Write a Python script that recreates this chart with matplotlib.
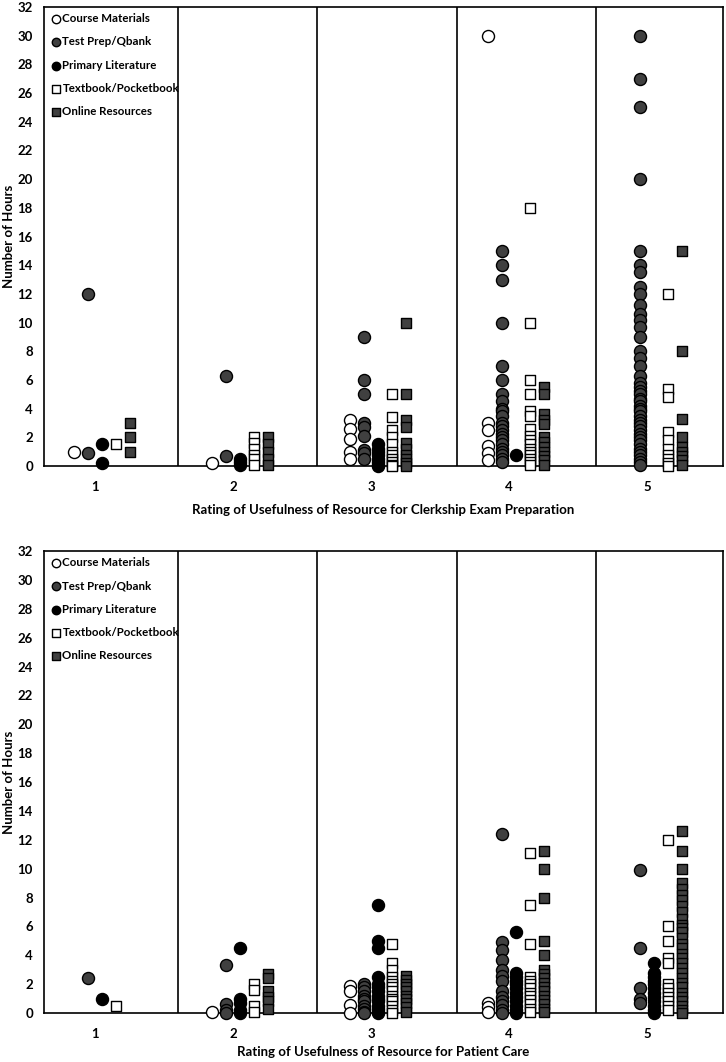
import matplotlib
matplotlib.use("Agg")
import matplotlib.pyplot as plt

plt.rcParams['font.family'] = ['Lato', 'DejaVu Sans']
plt.rcParams['font.weight'] = 'bold'

ratings = [1, 2, 3, 4, 5]
series_names = ['Course Materials', 'Test Prep/Qbank', 'Primary Literature',
                'Textbook/Pocketbook', 'Online Resources']

# hours per rating (1..5) for each resource, exam preparation panel
exam_course = [[1.0], [0.2], [3.2, 2.6, 1.9, 1.0, 0.5],
               [30, 3.0, 2.5, 1.4, 0.9, 0.4], []]
exam_qbank = [[12, 0.9], [6.3, 0.7],
              [9, 6, 5, 3, 2.7, 2.1, 1.1, 0.9, 0.5],
              [15, 14, 13, 10, 7, 6, 5, 4.5, 4, 3.8, 3.5, 3, 2.8, 2.5, 2.2, 2,
               1.8, 1.5, 1.2, 1, 0.8, 0.5, 0.3],
              [30, 27, 25, 20, 15, 14, 13.5, 12.5, 12, 11.2, 10.6, 10.2, 9.7, 9,
               8, 7.5, 7, 6.3, 5.8, 5.5, 5.2, 5, 4.7, 4.5, 4.2, 4, 3.8, 3.5,
               3.2, 3, 2.8, 2.5, 2.2, 2, 1.8, 1.5, 1.2, 1, 0.8, 0.5, 0.3, 0.1]]
exam_primary = [[1.5, 0.2], [0.5, 0.3, 0.1],
                [1.5, 1.2, 1.0, 0.8, 0.5, 0.3, 0.1, 0], [0.8], []]
exam_textbook = [[1.5], [2.0, 1.6, 1.2, 0.8, 0.5, 0.1],
                 [5, 3.4, 2.5, 2.0, 1.5, 1.0, 0.75, 0.5, 0.3, 0.1, 0],
                 [18, 10, 6, 5, 3.8, 3.5, 2.6, 2.1, 1.8, 1.5, 1.2, 1, 0.8,
                  0.5, 0.3, 0.1],
                 [12, 5.4, 4.8, 2.4, 1.8, 1.2, 0.8, 0.5, 0.2, 0]]
exam_online = [[3, 2, 1], [2.0, 1.5, 1.0, 0.5, 0.1],
               [10, 5, 3.2, 2.7, 1.6, 1.2, 0.8, 0.5, 0.2, 0],
               [5.5, 5.0, 3.6, 3.2, 2.9, 2.0, 1.7, 1.3, 1.0, 0.7, 0.4, 0.1],
               [15, 8, 3.3, 2.0, 1.3, 1.0, 0.7, 0.4, 0.1]]

# hours per rating (1..5) for each resource, patient care panel
care_course = [[], [0.1], [1.9, 1.5, 0.55, 0], [0.7, 0.4, 0.1], []]
care_qbank = [[2.4], [3.3, 0.6, 0.2, 0],
              [2.0, 1.8, 1.5, 1.2, 1.0, 0.8, 0.5, 0.3, 0.1, 0],
              [12.4, 4.9, 4.4, 3.7, 3.0, 2.6, 2.2, 1.5, 1.1, 0.8, 0.55, 0.2, 0],
              [9.9, 4.5, 1.7, 1.0, 0.7]]
care_primary = [[1.0], [4.5, 1.0, 0.7, 0.2, 0],
                [7.5, 5.0, 4.5, 2.5, 2, 1.8, 1.5, 1.2, 1.0, 0.8, 0.5, 0.3, 0.1, 0],
                [5.6, 2.8, 2.5, 2.2, 2.0, 1.7, 1.4, 1.1, 0.8, 0.5, 0.2, 0],
                [3.5, 2.8, 2.5, 2.2, 2.0, 1.7, 1.4, 1.1, 0.8, 0.5, 0.2, 0]]
care_textbook = [[0.5], [2.0, 1.6, 0.5, 0.05],
                 [4.8, 3.5, 3.0, 2.5, 2.2, 2.0, 1.8, 1.5, 1.2, 1.0, 0.8, 0.5,
                  0.2, 0],
                 [11.1, 7.5, 4.8, 2.5, 2.2, 2.0, 1.7, 1.4, 1.2, 0.9, 0.6, 0.3,
                  0.1],
                 [12, 6, 5, 3.8, 3.5, 2.0, 1.7, 1.4, 1.1, 0.8, 0.5, 0.2]]
care_online = [[], [2.7, 2.4, 1.5, 1.1, 0.8, 0.3],
               [2.6, 2.3, 2.0, 1.8, 1.5, 1.2, 1.0, 0.7, 0.4, 0.1],
               [11.2, 10, 8, 5, 4, 3.0, 2.7, 2.4, 2.1, 1.8, 1.5, 1.2, 0.9, 0.6,
                0.3, 0.1],
               [12.6, 11.2, 10, 9.0, 8.6, 8.2, 7.8, 7.4, 7.0, 6.5, 6.1, 5.9,
                5.6, 5.2, 4.8, 4.5, 4.1, 3.8, 3.5, 3.1, 2.8, 2.4, 2.1, 1.8, 1.4,
                1.1, 0.8, 0.5, 0.2, 0]]

y_ticks = list(range(0, 33, 2))
exam_xlabel = 'Rating of Usefulness of Resource for Clerkship Exam Preparation'
care_xlabel = 'Rating of Usefulness of Resource for Patient Care'

offsets = [-0.15, -0.05, 0.05, 0.15, 0.25]
styles = [
    dict(marker='o', facecolor='white', s=75),
    dict(marker='o', facecolor='#404040', s=75),
    dict(marker='o', facecolor='black', s=75),
    dict(marker='s', facecolor='white', s=60),
    dict(marker='s', facecolor='#404040', s=60),
]


def draw_panel(ax, data, xlabel, xpad):
    for name, values, off, st in zip(series_names, data, offsets, styles):
        xs, ys = [], []
        for r, vals in zip(ratings, values):
            xs += [r + off] * len(vals)
            ys += vals
        ax.scatter(xs, ys, marker=st['marker'], s=st['s'], c=st['facecolor'],
                   edgecolors='black', linewidths=1.0, label=name, zorder=3,
                   clip_on=False)
    for xd in [1.6, 2.61, 3.62, 4.63]:
        ax.axvline(xd, color='black', lw=1.2, zorder=2)
    ax.set_xlim(0.63, 5.55)
    ax.set_ylim(0, 32)
    ax.set_yticks(y_ticks)
    ax.set_xticks(ratings)
    ax.tick_params(axis='x', length=0, labelsize=9.5, pad=11)
    ax.tick_params(axis='y', length=0, labelsize=9.5, pad=8)
    for lab in ax.get_xticklabels() + ax.get_yticklabels():
        lab.set_fontweight('bold')
    for sp in ax.spines.values():
        sp.set_linewidth(1.2)
    ax.set_ylabel('Number of Hours', fontsize=9.5, fontweight='bold')
    ax.yaxis.set_label_coords(-0.042, 0.5)
    ax.set_xlabel(xlabel, fontsize=9.5, fontweight='bold', labelpad=xpad)
    leg = ax.legend(loc='upper left', bbox_to_anchor=(0, 1), borderaxespad=0,
                    frameon=False, prop={'size': 8.3, 'weight': 'bold'},
                    handletextpad=0.15, handlelength=0.9, labelspacing=1.05,
                    markerscale=0.7, borderpad=0.55)
    leg.set_zorder(5)


fig = plt.figure(figsize=(7.26, 10.62), dpi=100)
ax1 = fig.add_axes([0.0606, 0.5612, 0.9353, 0.4322])
ax2 = fig.add_axes([0.0606, 0.0461, 0.9353, 0.435])

draw_panel(ax1, [exam_course, exam_qbank, exam_primary, exam_textbook, exam_online],
           exam_xlabel, 8)
draw_panel(ax2, [care_course, care_qbank, care_primary, care_textbook, care_online],
           care_xlabel, 4)

fig.savefig('out.png', dpi=100)
